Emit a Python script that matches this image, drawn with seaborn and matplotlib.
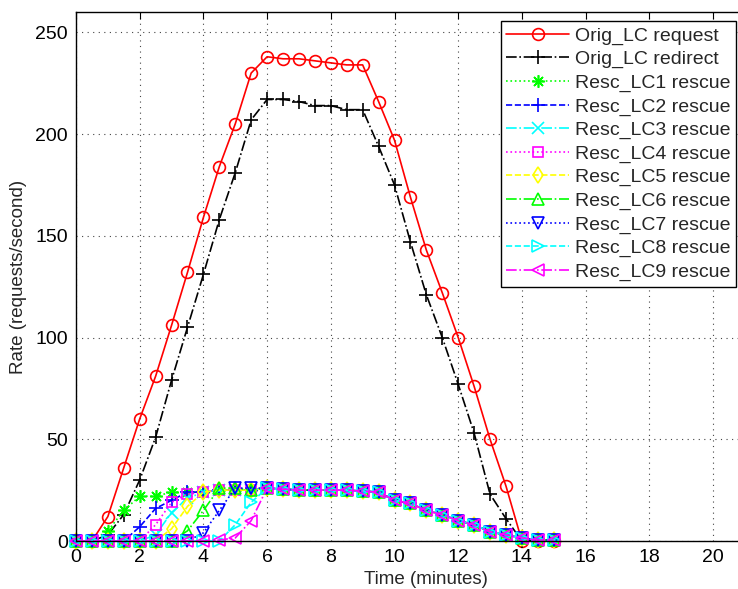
import numpy as np
import pandas as pd
import matplotlib
matplotlib.use("Agg")
import matplotlib.pyplot as plt
import seaborn as sns

time_min = [0, 0.5, 1, 1.5, 2, 2.5, 3, 3.5, 4, 4.5, 5, 5.5, 6, 6.5, 7, 7.5,
            8, 8.5, 9, 9.5, 10, 10.5, 11, 11.5, 12, 12.5, 13, 13.5, 14, 14.5, 15]

orig_request = [0, 0, 12, 36, 60, 81, 106, 132, 159, 184, 205, 230, 238, 237, 237, 236,
                235, 234, 234, 216, 197, 169, 143, 122, 100, 76, 50, 27, 0, 0, 0]
orig_redirect = [0, 0, 3, 13, 30, 51, 79, 105, 131, 158, 181, 207, 217, 217, 216, 214,
                 214, 212, 212, 194, 175, 147, 121, 100, 77, 53, 23, 11, 0, 0, 0]

resc_lc1 = [0, 0, 5, 15, 22, 22, 24, 24, 24, 25, 25, 25, 26, 25.5, 25, 25,
            25, 25, 24.5, 24, 20, 18.5, 15, 13, 10, 8, 4.5, 3, 1.5, 0.5, 0.5]
resc_lc2 = [0, 0, 0, 0, 7, 16, 20, 24, 24, 25, 25, 25, 26, 25.5, 25, 25,
            25, 25, 24.5, 24, 20, 18.5, 15, 13, 10, 8, 4.5, 3, 1.5, 0.5, 0.5]
resc_lc3 = [0, 0, 0, 0, 0, 3, 14, 21, 24, 25, 25, 25, 26, 25.5, 25, 25,
            25, 25, 24.5, 24, 20, 18.5, 15, 13, 10, 8, 4.5, 3, 1.5, 0.5, 0.5]
resc_lc4 = [0, 0, 0, 0, 0, 8, 19, 23, 24, 25, 25, 25, 26, 25.5, 25, 25,
            25, 25, 24.5, 24, 20, 18.5, 15, 13, 10, 8, 4.5, 3, 1.5, 0.5, 0.5]
resc_lc5 = [0, 0, 0, 0, 0, 0, 6, 17, 24, 25, 25, 25, 26, 25.5, 25, 25,
            25, 25, 24.5, 24, 20, 18.5, 15, 13, 10, 8, 4.5, 3, 1.5, 0.5, 0.5]
resc_lc6 = [0, 0, 0, 0, 0, 0, 0, 5, 15, 26, 26, 25, 26, 25.5, 25, 25,
            25, 25, 24.5, 24, 20, 18.5, 15, 13, 10, 8, 4.5, 3, 1.5, 0.5, 0.5]
resc_lc7 = [0, 0, 0, 0, 0, 0, 0, 0, 4, 15, 26, 26, 26, 25.5, 25, 25,
            25, 25, 24.5, 24, 20, 18.5, 15, 13, 10, 8, 4.5, 3, 1.5, 0.5, 0.5]
resc_lc8 = [0, 0, 0, 0, 0, 0, 0, 0, 0, 0, 8, 19, 26, 25.5, 25, 25,
            25, 25, 24.5, 24, 20, 18.5, 15, 13, 10, 8, 4.5, 3, 1.5, 0.5, 0.5]
resc_lc9 = [0, 0, 0, 0, 0, 0, 0, 0, 0, 0.5, 1.5, 10, 26, 25.5, 25, 25,
            25, 25, 24.5, 24, 20, 18.5, 15, 13, 10, 8, 4.5, 3, 1.5, 0.5, 0.5]

series_names = ["Orig_LC request", "Orig_LC redirect", "Resc_LC1 rescue", "Resc_LC2 rescue",
                "Resc_LC3 rescue", "Resc_LC4 rescue", "Resc_LC5 rescue", "Resc_LC6 rescue",
                "Resc_LC7 rescue", "Resc_LC8 rescue", "Resc_LC9 rescue"]
series_values = [orig_request, orig_redirect, resc_lc1, resc_lc2, resc_lc3, resc_lc4,
                 resc_lc5, resc_lc6, resc_lc7, resc_lc8, resc_lc9]

styles = [
    ("#ff0000", "-", "o", 8.5),
    ("#000000", "-.", "+", 10),
    ("#00ff00", ":", (8, 2, 0), 9),
    ("#0000ff", "--", "+", 10),
    ("#00ffff", "-.", "x", 8),
    ("#ff00ff", ":", "s", 7.5),
    ("#ffff00", "--", "d", 8.5),
    ("#00ff00", "-.", "^", 8.5),
    ("#0000ff", ":", "v", 8.5),
    ("#00ffff", "--", ">", 8.5),
    ("#ff00ff", "-.", "<", 8.5),
]

df = pd.concat([pd.DataFrame({"time": time_min, "rate": vals, "series": name})
                for name, vals in zip(series_names, series_values)], ignore_index=True)

sns.set_theme(style="white")
plt.rcParams["font.family"] = ["Liberation Sans", "DejaVu Sans"]

fig = plt.figure(figsize=(7.38, 5.89), dpi=100)
ax = fig.add_axes([76 / 738, 48 / 589, 22 * 31.85 / 738, 529 / 589])

for name, (col, ls, mk, ms) in zip(series_names, styles):
    sub = df[df["series"] == name]
    sns.lineplot(data=sub, x="time", y="rate", ax=ax, color=col, linestyle=ls,
                 marker=mk, markersize=ms, markerfacecolor="none",
                 markeredgecolor=col, markeredgewidth=1.2, linewidth=1.2,
                 label=name, errorbar=None, sort=False, clip_on=False)

ax.set_xlim(0, 22)
ax.set_ylim(0, 260)
ax.set_xticks(np.arange(0, 22, 2))
ax.set_yticks(np.arange(0, 251, 50))
ax.set_xlabel("Time (minutes)", fontsize=13.5, labelpad=3)
ax.set_ylabel("Rate (requests/second)", fontsize=13.5, labelpad=6)
ax.tick_params(axis="both", direction="in", length=5, width=0.8, labelsize=14,
               colors="black", top=True, right=True)
ax.tick_params(axis="x", pad=6)
ax.tick_params(axis="y", pad=6)
ax.grid(True, linestyle=(0, (1, 4)), color="#444444", linewidth=0.8)
for sp in ax.spines.values():
    sp.set_color("black")
    sp.set_linewidth(1.0)

leg = ax.legend(loc="upper right", bbox_to_anchor=(736 / 738, 1 - 21 / 589),
                bbox_transform=fig.transFigure, fontsize=14, frameon=True,
                fancybox=False, framealpha=1, edgecolor="black",
                handlelength=3.2, handletextpad=0.3, labelspacing=0.3,
                borderpad=0.3, borderaxespad=0)
leg.get_frame().set_linewidth(1.0)
leg.set_zorder(10)

fig.savefig("out.png", dpi=100)
